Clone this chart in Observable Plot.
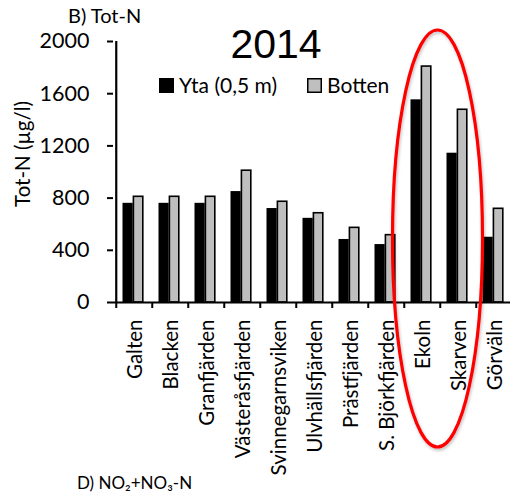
<!DOCTYPE html>
<html>
<head>
<meta charset="utf-8">
<script src="https://cdn.jsdelivr.net/npm/d3@7"></script>
<script src="https://cdn.jsdelivr.net/npm/@observablehq/plot@0.6"></script>
<style>
  html, body { margin: 0; padding: 0; background: white; overflow: hidden; }
  #chart { width: 510px; height: 493px; overflow: hidden; }
</style>
</head>
<body>
<div id="chart"></div>
<script>
const categories = ["Galten", "Blacken", "Granfjärden", "Västeråsfjärden", "Svinnegarnsviken", "Ulvhällsfjärden", "Prästfjärden", "S. Björkfjärden", "Ekoln", "Skarven", "Görväln"];
const ytaValues = [760, 760, 760, 850, 720, 645, 483, 444, 1553, 1144, 500];
const bottenValues = [810, 810, 810, 1010, 772, 684, 572, 516, 1808, 1477, 718];
const seriesNames = ["Yta (0,5 m)", "Botten"];
const yTicks = [0, 400, 800, 1200, 1600, 2000];
const titleText = "2014";
const panelText = "B) Tot-N";
const yLabel = "Tot-N (µg/l)";
const nextPanelText = "D) NO₂+NO₃-N";
const highlighted = ["Ekoln", "Skarven"];

const yta = categories.map((c, i) => ({cat: c, value: ytaValues[i], series: seriesNames[0]}));
const botten = categories.map((c, i) => ({cat: c, value: bottenValues[i], series: seriesNames[1]}));

const font = "Lato, 'Open Sans', sans-serif";

const plot = Plot.plot({
  width: 510,
  height: 493,
  marginLeft: 113,
  marginRight: 0,
  marginTop: 41,
  marginBottom: 191,
  x: {domain: categories, range: [113, 514.5], padding: 0, axis: null},
  y: {domain: [0, 2000], range: [302, 41], axis: null},
  style: {fontFamily: font, background: "white", color: "black", overflow: "visible"},
  marks: [
    Plot.barY(yta, {x: "cat", y: "value", fill: "black", insetLeft: 6.5, insetRight: 19.3}),
    Plot.barY(botten, {x: "cat", y: "value", fill: "#bfbfbf", stroke: "black", strokeWidth: 1.6, insetLeft: 17.4, insetRight: 9.2}),
    Plot.ruleX([categories[0]], {x: d => d, y1: 0, y2: 2000, dx: -18.25, strokeWidth: 2.2, stroke: "black"}),
    Plot.ruleY([0], {strokeWidth: 2.2, stroke: "black"}),
    Plot.axisY({ticks: yTicks, tickSize: 6, tickPadding: 18, fontSize: 21.5, label: null, strokeWidth: 2, tickFormat: d => String(d)}),
    Plot.axisX({tickSize: 0, tickPadding: 17, tickRotate: -90, fontSize: 20.5, label: null, dx: 1}),
    Plot.axisX({tickSize: 6, dx: -18.25, tickFormat: () => "", strokeWidth: 2, label: null})
  ]
});

document.getElementById("chart").appendChild(plot);

const svg = d3.select(plot);
const xs = plot.scale("x");

// Title
svg.append("text").attr("x", 276).attr("y", 58).attr("text-anchor", "middle")
  .attr("font-family", "'Liberation Sans', Arial, sans-serif").attr("font-size", 41).attr("fill", "black").text(titleText);

// Panel label
svg.append("text").attr("x", 68).attr("y", 23).attr("text-anchor", "start")
  .attr("font-family", font).attr("font-size", 20).attr("fill", "black").text(panelText);

// Y axis label
svg.append("text").attr("transform", "translate(30,154) rotate(-90)").attr("text-anchor", "middle")
  .attr("font-family", font).attr("font-size", 20.5).attr("fill", "black").text(yLabel);

// Legend
const legend = [
  {name: seriesNames[0], x: 159, fill: "black"},
  {name: seriesNames[1], x: 307, fill: "#bfbfbf"}
];
legend.forEach(l => {
  svg.append("rect").attr("x", l.x + 0.75).attr("y", 78.75).attr("width", 13.5).attr("height", 13.5)
    .attr("fill", l.fill).attr("stroke", "black").attr("stroke-width", 1.5);
  svg.append("text").attr("x", l.x + 20).attr("y", 93).attr("text-anchor", "start")
    .attr("font-family", font).attr("font-size", 21).attr("fill", "black").text(l.name);
});

// Next panel label (at the bottom edge)
svg.append("text").attr("x", 77).attr("y", 489).attr("text-anchor", "start")
  .attr("font-family", font).attr("font-size", 17).attr("fill", "black").text(nextPanelText);

// Highlight ellipse around Ekoln and Skarven
const cx = xs.apply(highlighted[1]) - 2.5;
const defs = svg.append("defs");
const f = defs.append("filter").attr("id", "sh").attr("x", "-20%").attr("y", "-20%").attr("width", "140%").attr("height", "140%");
f.append("feDropShadow").attr("dx", 1).attr("dy", 2).attr("stdDeviation", 1.5).attr("flood-color", "#000").attr("flood-opacity", 0.25);
svg.append("ellipse").attr("cx", cx).attr("cy", 238.5).attr("rx", 45).attr("ry", 208.5)
  .attr("fill", "none").attr("stroke", "#ff0000").attr("stroke-width", 3.2).attr("filter", "url(#sh)");
</script>
</body>
</html>
